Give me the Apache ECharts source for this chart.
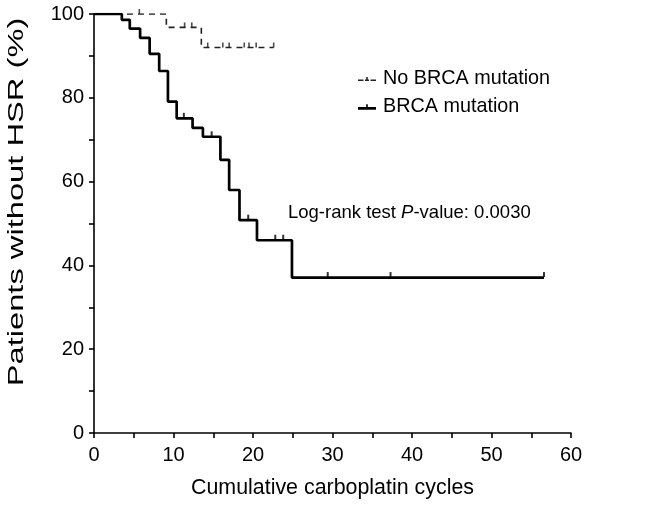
<!DOCTYPE html>
<html><head><meta charset="utf-8">
<script src="https://cdn.jsdelivr.net/npm/echarts@6/dist/echarts.min.js"></script>
<style>html,body{margin:0;padding:0;background:#fff}#c{width:648px;height:510px}</style>
</head><body><div id="c"></div>
<script>
const xTicks = [0, 10, 20, 30, 40, 50, 60];
const yTicks = [0, 20, 40, 60, 80, 100];
// BRCA mutation: Kaplan-Meier step points [cycles, % without HSR]
const brcaTimes = [0, 3.5, 4.5, 5.8, 7.0, 8.2, 9.3, 10.4, 12.4, 13.7, 15.9, 17.0, 18.3, 20.5, 24.9, 56.6];
const brcaSurv  = [100, 98.6, 96.5, 94.3, 90.5, 86.4, 79.1, 75.1, 72.8, 70.7, 65.2, 58.0, 50.8, 46.0, 37.1, 37.1];
const brcaCensor = [11.3, 14.8, 19.4, 22.8, 23.8, 29.4, 37.3, 56.6];
// No BRCA mutation
const noBrcaTimes = [0, 9.1, 13.5, 22.6];
const noBrcaSurv  = [100, 96.8, 92.0, 92.0];
const noBrcaCensor = [5.7, 11.4, 12.3, 14.3, 16.2, 17.0, 18.9, 19.5, 20.4, 22.6];
const seriesNames = ['No BRCA mutation', 'BRCA mutation'];
const annotation = ['Log-rank test ', 'P', '-value: 0.0030'];
const xName = 'Cumulative carboplatin cycles';
const yName = 'Patients without HSR (%)';

function pairs(t, s) { return t.map((v, i) => [v, s[i]]); }
function survAt(t, s, x) { let v = s[0]; for (let i = 0; i < t.length; i++) { if (t[i] <= x) v = s[i]; } return v; }
function censorPts(t, s, c) { return c.map(x => [x, survAt(t, s, x)]); }

const FONT = 'Liberation Sans, Arial, Helvetica, sans-serif';
const ICON_SOLID = 'path://M0,4.2h18v2.6H0z M8.2,1.5h1.6v3H8.2z';
const ICON_DASH = 'path://M0,4.6h5.5v1.6H0z M7,4.6h4v1.6H7z M12.5,4.6h5.5v1.6H12.5z M8.2,2h1.6v3H8.2z';
const chart = echarts.init(document.getElementById('c'), null, {renderer: 'canvas'});
chart.setOption({
  animation: false,
  backgroundColor: '#fff',
  grid: {left: 94, right: 77, top: 14, bottom: 77, containLabel: false},
  xAxis: {
    type: 'value', min: 0, max: 60, interval: 10,
    axisLine: {show: true, onZero: false, lineStyle: {color: '#000', width: 1.6}},
    axisTick: {show: true, length: 5, lineStyle: {color: '#000', width: 1.6}},
    minorTick: {show: true, splitNumber: 2, length: 5, lineStyle: {color: '#000', width: 1.6}},
    splitLine: {show: false},
    axisLabel: {color: '#000', fontSize: 20, fontFamily: FONT, margin: 12,
      formatter: v => xTicks.includes(v) ? String(v) : ''},
    name: xName, nameLocation: 'middle', nameGap: 45,
    nameTextStyle: {color: '#000', fontSize: 21.4, fontFamily: FONT}
  },
  yAxis: {
    type: 'value', min: 0, max: 100, interval: 20,
    axisLine: {show: true, onZero: false, lineStyle: {color: '#000', width: 1.6}},
    axisTick: {show: true, length: 5, lineStyle: {color: '#000', width: 1.6}},
    minorTick: {show: true, splitNumber: 2, length: 5, lineStyle: {color: '#000', width: 1.6}},
    splitLine: {show: false},
    axisLabel: {color: '#000', fontSize: 20, fontFamily: FONT, margin: 10,
      formatter: v => yTicks.includes(v) ? String(v) : ''}
  },
  legend: {
    orient: 'vertical', left: 353, top: 64, itemGap: 8, itemWidth: 18, itemHeight: 9,
    data: [{name: seriesNames[0], icon: ICON_DASH}, {name: seriesNames[1], icon: ICON_SOLID}],
    textStyle: {color: '#000', fontSize: 19.8, fontFamily: FONT, padding: [0, 0, 0, 2]}
  },
  graphic: [{
    type: 'text', left: 288, top: 203,
    style: {
      text: '{a|' + annotation[0] + '}{b|' + annotation[1] + '}{a|' + annotation[2] + '}',
      rich: {
        a: {fontSize: 18.5, fontFamily: FONT, fill: '#000'},
        b: {fontSize: 18.5, fontFamily: FONT, fontStyle: 'italic', fill: '#000'}
      }
    }
  }, {
    type: 'text', x: 17, y: 202, rotation: Math.PI / 2, scaleX: 1.52,
    style: {text: yName, fontSize: 21.5, fontFamily: FONT, fill: '#000', align: 'center', verticalAlign: 'middle'}
  }],
  series: [
    {
      name: seriesNames[0], type: 'line', step: 'end', data: pairs(noBrcaTimes, noBrcaSurv),
      symbol: 'none', lineStyle: {color: '#222', width: 1.6, type: [6, 5]}, itemStyle: {color: '#222'}, z: 2
    },
    {
      name: seriesNames[1], type: 'line', step: 'end', data: pairs(brcaTimes, brcaSurv),
      symbol: 'none', lineStyle: {color: '#000', width: 2.7}, itemStyle: {color: '#000'}, z: 3
    },
    {
      name: 'censor-no', type: 'scatter', data: censorPts(noBrcaTimes, noBrcaSurv, noBrcaCensor),
      symbol: 'rect', symbolSize: [1.6, 5], symbolOffset: [0, -2.5], itemStyle: {color: '#222'}, z: 4
    },
    {
      name: 'censor-brca', type: 'scatter', data: censorPts(brcaTimes, brcaSurv, brcaCensor),
      symbol: 'rect', symbolSize: [2, 5], symbolOffset: [0, -3], itemStyle: {color: '#000'}, z: 4
    }
  ]
});
</script>
</body></html>
